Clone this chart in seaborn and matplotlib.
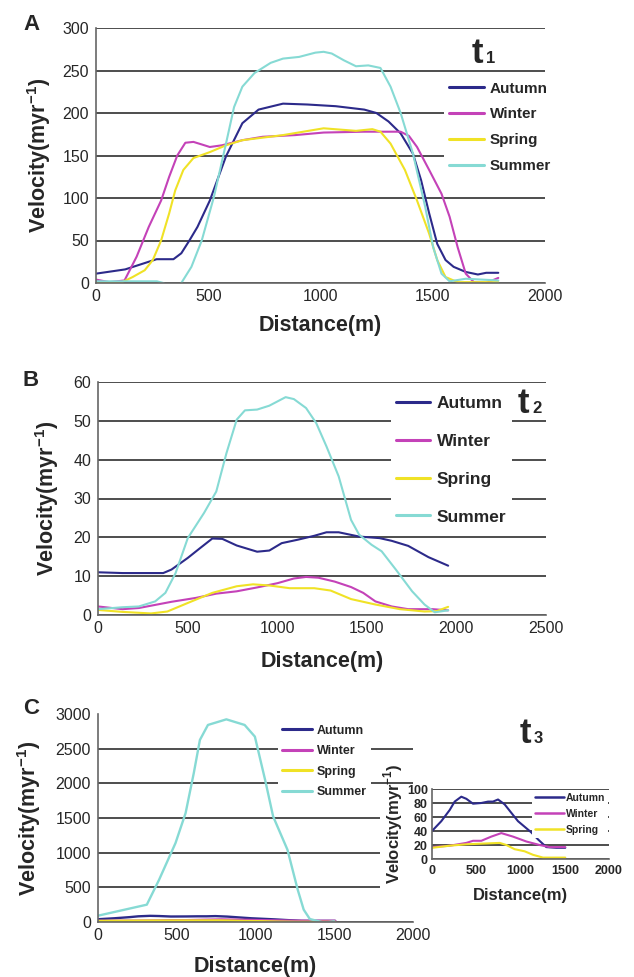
import matplotlib
matplotlib.use("Agg")
import matplotlib.pyplot as plt
import seaborn as sns
from matplotlib.patches import Rectangle

sns.set_style("white")
plt.rcParams['font.family'] = ['Liberation Sans', 'DejaVu Sans']
plt.rcParams['mathtext.fontset'] = 'custom'
plt.rcParams['mathtext.rm'] = 'Liberation Sans'
plt.rcParams['mathtext.bf'] = 'Liberation Sans:bold'

W, H = 634, 977
colors = {'Autumn': '#2c2a8a', 'Winter': '#c442b8', 'Spring': '#f0e226', 'Summer': '#86dad4'}

# ---- panel A (t1) ----
a_autumn_x = [0, 130, 270, 345, 380, 416, 452, 507, 579, 652, 724, 833, 941, 1068, 1195, 1249, 1303,
              1357, 1412, 1448, 1484, 1520, 1557, 1593, 1647, 1701, 1738, 1792]
a_autumn_y = [11, 16, 28, 28, 35, 50, 66, 97, 149, 188, 204, 211, 210, 208, 204, 200, 190,
              176, 152, 121, 82, 46, 27, 19, 13, 10, 12, 12]
a_winter_x = [0, 60, 127, 181, 235, 290, 326, 362, 398, 434, 471, 507, 561, 652, 742, 887, 1014,
              1195, 1357, 1394, 1430, 1484, 1539, 1575, 1611, 1647, 1683, 1738, 1792]
a_winter_y = [4, 1, 3, 31, 66, 97, 125, 150, 165, 166, 163, 160, 162, 168, 172, 174, 177,
              178, 178, 173, 160, 133, 105, 78, 42, 11, 1, 0, 6]
a_spring_x = [0, 109, 163, 217, 253, 290, 326, 353, 389, 434, 507, 579, 652, 833, 1014, 1158,
              1231, 1267, 1312, 1376, 1430, 1484, 1520, 1557, 1611, 1792]
a_spring_y = [1, 0, 7, 15, 27, 50, 82, 109, 133, 147, 154, 162, 168, 174, 182, 179,
              181, 178, 164, 133, 97, 58, 27, 7, 1, 1]
a_summer_x = [0, 271, 300, 330, 365, 380, 425, 471, 525, 579, 615, 652, 706, 778, 833, 905, 977,
              1014, 1050, 1104, 1158, 1213, 1267, 1312, 1357, 1412, 1466, 1502, 1539, 1575, 1647, 1792]
a_summer_y = [2, 2, 0, -6, -6, 0, 19, 50, 101, 164, 207, 231, 247, 259, 264, 266, 271,
              272, 270, 262, 255, 256, 253, 231, 200, 152, 90, 42, 11, 2, 5, 3]

# ---- panel B (t2) ----
b_autumn_x = [0, 137, 364, 410, 501, 569, 638, 694, 774, 888, 956, 1025, 1116, 1207, 1275, 1343,
              1457, 1571, 1639, 1731, 1844, 1954]
b_autumn_y = [11.0, 10.8, 10.8, 11.7, 14.7, 17.2, 19.7, 19.6, 17.9, 16.3, 16.6, 18.5, 19.4, 20.4,
              21.3, 21.3, 20.2, 19.8, 19.1, 17.8, 14.9, 12.7]
b_winter_x = [0, 137, 228, 319, 410, 546, 660, 774, 888, 1002, 1093, 1161, 1230, 1321, 1412, 1480,
              1548, 1639, 1731, 1867, 1954]
b_winter_y = [2.2, 1.5, 1.8, 2.6, 3.4, 4.4, 5.5, 6.1, 7.1, 8.2, 9.4, 9.8, 9.6, 8.6, 7.2, 5.7,
              3.5, 2.2, 1.5, 1.5, 1.2]
b_spring_x = [0, 137, 296, 387, 501, 638, 774, 865, 956, 1070, 1207, 1298, 1412, 1548, 1685, 1822,
              1890, 1954]
b_spring_y = [1.3, 0.8, 0.4, 0.9, 3.1, 5.7, 7.4, 7.9, 7.6, 6.9, 6.9, 6.3, 4.1, 2.7, 1.5, 0.9,
              1.0, 2.1]
b_summer_x = [0, 137, 228, 319, 376, 433, 501, 592, 660, 717, 774, 820, 888, 956, 1047, 1093, 1161,
              1218, 1275, 1343, 1412, 1457, 1526, 1583, 1662, 1753, 1822, 1879, 1954]
b_summer_y = [1.5, 2.0, 2.2, 3.5, 5.7, 10.8, 19.8, 26.3, 31.8, 41.7, 50.3, 52.7, 52.9, 53.9, 56.1,
              55.6, 53.3, 49.4, 43.4, 35.7, 24.5, 20.7, 18.1, 16.4, 11.7, 6.1, 2.7, 0.7, 1.2]

# ---- panel C (t3) ----
c_autumn_x = [0, 105, 200, 256, 331, 388, 463, 557, 633, 689, 746, 821, 896, 972, 1066, 1122,
              1198, 1292, 1405, 1506]
c_autumn_y = [40, 54, 70, 82, 89, 86, 79, 80, 82, 82, 85, 78, 66, 54, 44, 38, 28, 17, 16, 16]
c_winter_x = [0, 200, 388, 463, 557, 670, 783, 915, 1066, 1216, 1329, 1506]
c_winter_y = [17, 19, 23, 26, 26, 32, 37, 32, 25, 20, 17, 17]
c_spring_x = [0, 200, 388, 576, 765, 840, 934, 1047, 1141, 1254, 1506]
c_spring_y = [16, 19, 21, 22, 23, 20, 14, 11, 6, 2, 2]
c_summer_x = [0, 310, 388, 492, 556, 608, 647, 698, 815, 931, 996, 1061, 1112, 1203, 1268, 1306,
              1345, 1436, 1500]
c_summer_y = [91, 250, 610, 1138, 1570, 2146, 2626, 2842, 2923, 2842, 2674, 2050, 1522, 1042,
              466, 178, 43, -10, 10]

ylab = r'Velocity(myr$^{\mathbf{-1}}$)'


def rect(l, t, r, b):
    return [l / W, 1 - b / H, (r - l) / W, (b - t) / H]


def fx(x):
    return x / W


def fy(y):
    return 1 - y / H


def style_ax(ax, xmax, xstep, ymax, ystep, tsize=11.5, tweight='normal'):
    ax.set_xlim(0, xmax)
    ax.set_ylim(0, ymax)
    ax.set_xticks(range(0, xmax + 1, xstep))
    ax.set_yticks(range(0, ymax + 1, ystep))
    ax.set_axisbelow(True)
    ax.yaxis.grid(True, color='#1c1c1c', lw=1.1)
    ax.xaxis.grid(False)
    for s in ['top', 'right']:
        ax.spines[s].set_visible(False)
    for s in ['left', 'bottom']:
        ax.spines[s].set_color('#666666')
        ax.spines[s].set_linewidth(1.2)
    ax.tick_params(axis='y', direction='out', length=3, width=1.1, color='#444444', pad=2,
                   labelsize=tsize)
    ax.tick_params(axis='x', direction='in', length=5, width=1.1, color='#555555', pad=4,
                   labelsize=tsize)
    for lab in ax.get_xticklabels() + ax.get_yticklabels():
        lab.set_fontweight(tweight)


def draw(ax, series, lw=1.5):
    for name, x, y in series:
        sns.lineplot(x=x, y=y, color=colors[name], lw=lw, ax=ax, label=name, estimator=None)


def put_legend(ax, hx, ty, size, hl, htp, ls, lw=2.2):
    fs = size * 100 / 72
    leg = ax.legend(loc='upper left', bbox_to_anchor=(fx(hx - 0.3 * fs), fy(ty)),
                    bbox_transform=fig.transFigure, frameon=True, facecolor='white',
                    edgecolor='none', framealpha=1, fancybox=False, borderpad=0.3,
                    borderaxespad=0, handlelength=hl, handletextpad=htp, labelspacing=ls,
                    prop={'weight': 'bold', 'size': size})
    for h in leg.legend_handles:
        h.set_linewidth(lw)
    return leg


def tlabel(x, y, sub):
    fig.text(fx(x), fy(y), 't', fontsize=25, weight='bold', ha='left', va='baseline')
    fig.text(fx(x + 14), fy(y), sub, fontsize=12, weight='bold', ha='left', va='baseline')


fig = plt.figure(figsize=(W / 100, H / 100), dpi=100)

# panel A
axA = fig.add_axes(rect(96, 28, 545, 283))
draw(axA, [('Autumn', a_autumn_x, a_autumn_y), ('Winter', a_winter_x, a_winter_y),
           ('Spring', a_spring_x, a_spring_y), ('Summer', a_summer_x, a_summer_y)])
style_ax(axA, 2000, 500, 300, 50)
axA.set_xlabel('Distance(m)', fontsize=15.5, weight='bold', labelpad=8)
axA.set_ylabel(ylab, fontsize=15.5, weight='bold', labelpad=7)
put_legend(axA, 449, 77, 11, 2.3, 0.35, 0.78)

# panel B
axB = fig.add_axes(rect(98, 382, 546, 615))
draw(axB, [('Autumn', b_autumn_x, b_autumn_y), ('Winter', b_winter_x, b_winter_y),
           ('Spring', b_spring_x, b_spring_y), ('Summer', b_summer_x, b_summer_y)])
style_ax(axB, 2500, 500, 60, 10)
axB.set_xlabel('Distance(m)', fontsize=15.5, weight='bold', labelpad=11)
axB.set_ylabel(ylab, fontsize=15.5, weight='bold', labelpad=9)
put_legend(axB, 396, 391, 12.5, 1.95, 0.4, 1.3)

# panel C
axC = fig.add_axes(rect(98, 714, 413, 922))
draw(axC, [('Autumn', c_autumn_x, c_autumn_y), ('Winter', c_winter_x, c_winter_y),
           ('Spring', c_spring_x, c_spring_y), ('Summer', c_summer_x, c_summer_y)], lw=1.7)
style_ax(axC, 2000, 500, 3000, 500)
axC.yaxis.get_gridlines()[-1].set_visible(False)
axC.set_xlabel('Distance(m)', fontsize=15.5, weight='bold', labelpad=10)
axC.set_ylabel(ylab, fontsize=15.5, weight='bold', labelpad=9)
put_legend(axC, 282, 721, 9, 2.4, 0.4, 0.68)

# white backing of the pasted inset
fig.patches.append(Rectangle((fx(380), fy(915)), (420 - 380) / W, (915 - 800) / H,
                             transform=fig.transFigure, facecolor='white', edgecolor='none',
                             zorder=1))

# inset of panel C
axI = fig.add_axes(rect(432, 789, 609, 859), zorder=3)
draw(axI, [('Autumn', c_autumn_x, c_autumn_y), ('Winter', c_winter_x, c_winter_y),
           ('Spring', c_spring_x, c_spring_y)], lw=1.5)
style_ax(axI, 2000, 500, 100, 20, tsize=9, tweight='bold')
axI.tick_params(axis='y', length=2, pad=1)
axI.tick_params(axis='x', length=3, pad=4)
axI.set_xlabel('Distance(m)', fontsize=12, weight='bold', labelpad=8)
axI.set_ylabel(ylab, fontsize=12, weight='bold', labelpad=1)
put_legend(axI, 535, 790, 7.5, 2.8, 0.15, 0.55, lw=1.8)

# panel letters and time labels
for letter, y in [('A', 24), ('B', 380), ('C', 709)]:
    fig.text(fx(31), fy(y), letter, fontsize=16, weight='bold', ha='center', va='center')
tlabel(472, 63, '1')
tlabel(518, 413, '2')
tlabel(520, 743, '3')

fig.savefig('out.png', dpi=100)
